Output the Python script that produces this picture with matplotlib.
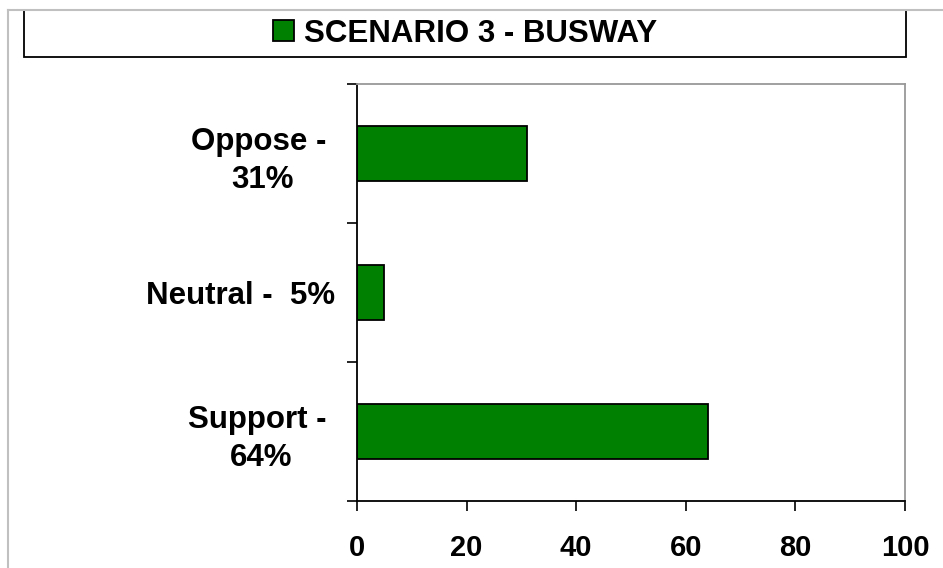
import matplotlib
matplotlib.use('Agg')
import matplotlib.pyplot as plt
from matplotlib.patches import Rectangle
from matplotlib.lines import Line2D

plt.rcParams['font.family'] = ['Liberation Sans', 'DejaVu Sans']
plt.rcParams['font.weight'] = 'bold'

# data (bottom to top)
categories = ['Support - \n64%', 'Neutral -  5%', 'Oppose - \n31%']
values = [64, 5, 31]
series_name = 'SCENARIO 3 - BUSWAY'
xticks = [0, 20, 40, 60, 80, 100]

W, H = 943, 568
fig = plt.figure(figsize=(W / 100, H / 100), dpi=100)
ax = fig.add_axes([357 / W, 1 - 501 / H, (905 - 357) / W, (501 - 84) / H])

bars = ax.barh(range(len(values)), values, height=0.4, color='#008000',
               edgecolor='black', linewidth=1.3)

ax.set_xlim(0, 100)
ax.set_ylim(-0.5, len(values) - 0.5)
ax.set_xticks(xticks)
ax.set_xticklabels([str(t) for t in xticks], fontsize=21, fontweight='bold')
ax.tick_params(axis='x', direction='out', length=7, width=1.2, pad=17)

ax.set_yticks(range(len(categories)))
ax.set_yticklabels(categories, fontsize=22.5, fontweight='bold',
                   multialignment='center', linespacing=1.35)
ax.tick_params(axis='y', which='major', length=0, pad=16)
ax.set_yticks([i - 0.5 for i in range(len(values) + 1)], minor=True)
ax.tick_params(axis='y', which='minor', direction='out', length=7, width=1.2)

for s in ['left', 'bottom']:
    ax.spines[s].set_color('black')
    ax.spines[s].set_linewidth(1.3)
for s in ['top', 'right']:
    ax.spines[s].set_color('#999999')
    ax.spines[s].set_linewidth(1.3)

# legend box across the top
x0, x1, y0, y1 = 24 / W, 906 / W, 1 - 57 / H, 1 - 10 / H
fig.patches.append(Rectangle((x0, y0), x1 - x0, y1 - y0, transform=fig.transFigure,
                             facecolor='white', edgecolor='black', linewidth=1.3))
fig.legend([bars], [series_name], loc='center',
           bbox_to_anchor=((x0 + x1) / 2, (y0 + y1) / 2),
           frameon=False, prop={'size': 22.5, 'weight': 'bold'},
           handlelength=0.67, handleheight=0.67, handletextpad=0.3)

# light outer border
fig.lines.append(Line2D([8 / W, 1], [1 - 10 / H, 1 - 10 / H], transform=fig.transFigure,
                        color='#c0c0c0', linewidth=1.5))
fig.lines.append(Line2D([8 / W, 8 / W], [0, 1 - 10 / H], transform=fig.transFigure,
                        color='#c0c0c0', linewidth=1.5))

fig.savefig('out.png', dpi=100)
